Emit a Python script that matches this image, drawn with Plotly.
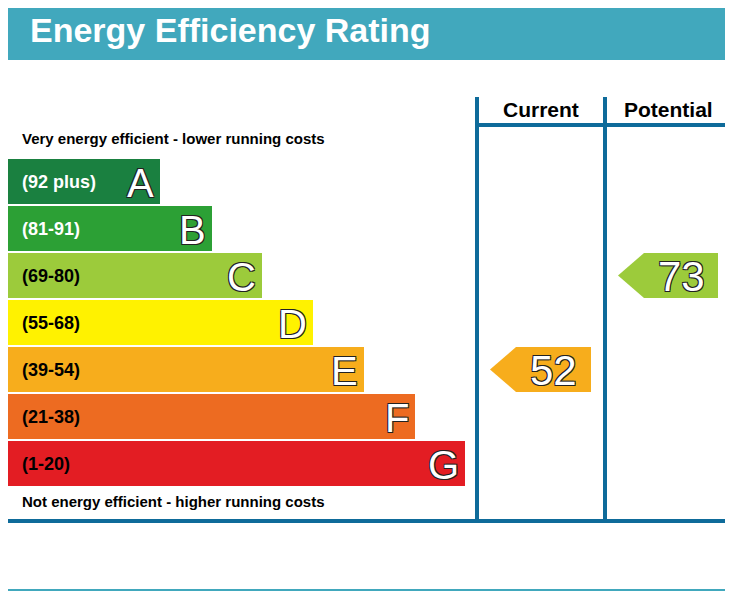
import plotly.graph_objects as go

# EPC bands
letters = ["A", "B", "C", "D", "E", "F", "G"]
ranges = ["(92 plus)", "(81-91)", "(69-80)", "(55-68)", "(39-54)", "(21-38)", "(1-20)"]
lower_bounds = [92, 81, 69, 55, 39, 21, 1]
bar_lengths = [152, 204, 254, 305, 356, 407, 457]
colors = ["#1a8040", "#2ca035", "#9ccb3b", "#fff200", "#f7ad1c", "#ed6b21", "#e31d23"]
label_colors = ["white", "white", "black", "black", "black", "black", "black"]
current = 52
potential = 73

TEAL = "#41a8bd"
BLUE = "#0e6b9a"
BAND_TOP, BAND_STEP, BAND_H = 159, 47, 45
centers = [BAND_TOP + BAND_H / 2 + i * BAND_STEP for i in range(len(letters))]
outline = "1px 1px 0 #222, -1px -1px 0 #222, 1px -1px 0 #222, -1px 1px 0 #222"


def band_of(v):
    for i, lb in enumerate(lower_bounds):
        if v >= lb:
            return i
    return len(lower_bounds) - 1


fig = go.Figure()
fig.add_trace(go.Bar(
    orientation="h", y=centers, x=bar_lengths, base=8, width=BAND_H,
    marker=dict(color=colors, line=dict(width=0)), hoverinfo="skip",
))

for i in range(len(letters)):
    fig.add_annotation(x=20, y=centers[i], text=f"<b>{ranges[i]}</b>", showarrow=False,
                       xanchor="left", font=dict(family="Liberation Sans", size=18, color=label_colors[i]))
    fig.add_annotation(x=8 + bar_lengths[i] - 4, y=centers[i] + 1, text=letters[i], showarrow=False,
                       xanchor="right", font=dict(family="Liberation Sans", size=40, color="white",
                                                  shadow=outline))

# rating arrows
for value, x0, x1 in [(current, 490, 591), (potential, 618, 718)]:
    b = band_of(value)
    yc = centers[b]
    h = BAND_H / 2
    fig.add_trace(go.Scatter(
        x=[x0, x0 + 26, x1, x1, x0 + 26, x0], y=[yc, yc - h, yc - h, yc + h, yc + h, yc],
        fill="toself", fillcolor=colors[b], mode="lines", line=dict(width=0), hoverinfo="skip",
    ))
    fig.add_annotation(x=(x0 + 26 + x1) / 2, y=yc + 1, text=str(value), showarrow=False,
                       font=dict(family="Liberation Sans", size=42, color="white", shadow=outline))

shapes = [
    dict(type="rect", x0=3, x1=733, y0=0, y1=60, fillcolor=TEAL, line_width=0),
    dict(type="line", x0=3, x1=733, y0=590, y1=590, line=dict(color=TEAL, width=2)),
    dict(type="line", x0=476, x1=729, y0=125, y1=125, line=dict(color=BLUE, width=4)),
    dict(type="line", x0=8, x1=729, y0=521, y1=521, line=dict(color=BLUE, width=4)),
]
for xv in [477, 605, 728]:
    shapes.append(dict(type="line", x0=xv, x1=xv, y0=97, y1=523, line=dict(color=BLUE, width=4)))

texts = [
    (28, 30, "<b>Energy Efficiency Rating</b>", 34, "white", "left"),
    (541, 109, "<b>Current</b>", 21, "black", "center"),
    (668, 109, "<b>Potential</b>", 21, "black", "center"),
    (20, 138, "<b>Very energy efficient - lower running costs</b>", 15, "black", "left"),
    (20, 501, "<b>Not energy efficient - higher running costs</b>", 15, "black", "left"),
]
for x, y, t, s, c, a in texts:
    fig.add_annotation(x=x, y=y, text=t, showarrow=False, xanchor=a,
                       font=dict(family="Liberation Sans", size=s, color=c))

# page renders with an 8px body offset; shift the ranges to compensate
fig.update_layout(
    width=733, height=592, margin=dict(l=0, r=0, t=0, b=0),
    plot_bgcolor="white", paper_bgcolor="white", showlegend=False, shapes=shapes,
    xaxis=dict(range=[8, 741], visible=False, fixedrange=True),
    yaxis=dict(range=[600, 8], visible=False, fixedrange=True),
)
fig.write_html("out.html")
